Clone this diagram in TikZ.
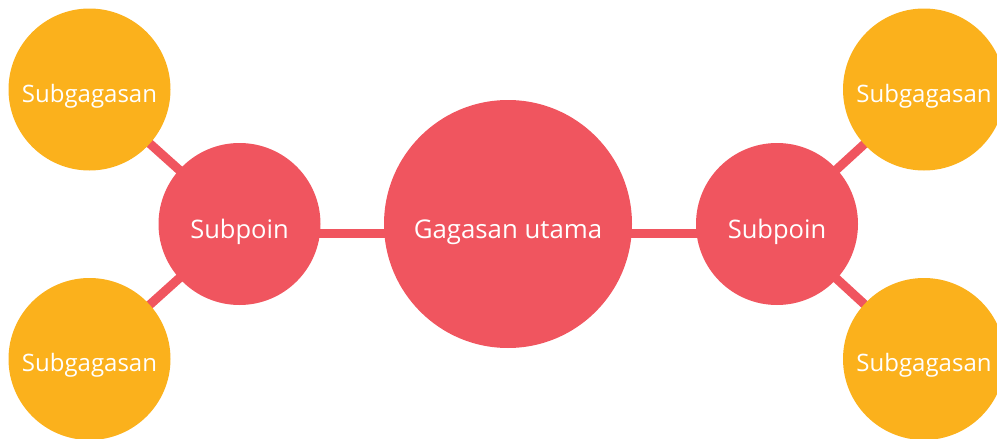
\documentclass[tikz,border=0pt]{standalone}
\usepackage{fontspec}
\setmainfont{Open Sans}
\usetikzlibrary{backgrounds}
\definecolor{redc}{RGB}{240,85,95}
\definecolor{orangec}{RGB}{251,177,28}
\newcommand{\lowtxt}[2]{\raisebox{-#1}[0pt][0pt]{#2}}
\tikzset{
  mainc/.style={circle, fill=redc, draw=none, minimum size=248pt, inner sep=0pt, text=white, font=\fontsize{25.8}{30}\selectfont},
  subc/.style={circle, fill=redc, draw=none, minimum size=162pt, inner sep=0pt, text=white, font=\fontsize{25.5}{30}\selectfont},
  leafc/.style={circle, fill=orangec, draw=none, minimum size=162pt, inner sep=0pt, text=white, font=\fontsize{24}{28}\selectfont},
  conn/.style={draw=redc, line width=9pt}
}
\begin{document}
\begin{tikzpicture}[x=1pt,y=-1pt]
\useasboundingbox (0,0) rectangle (997,439);
\node[mainc] (main) at (508,224) {\lowtxt{14pt}{Gagasan utama}};
\node[subc] (subL) at (239.5,224) {\lowtxt{14pt}{Subpoin}};
\node[subc] (subR) at (777,224) {\lowtxt{14pt}{Subpoin}};
\node[leafc] (lt) at (89.5,89.5) {\lowtxt{12.5pt}{Subgagasan}};
\node[leafc] (lb) at (89.5,359) {\lowtxt{12.5pt}{Subgagasan}};
\node[leafc] (rt) at (924,89.5) {\lowtxt{12.5pt}{Subgagasan}};
\node[leafc] (rb) at (924,359) {\lowtxt{12.5pt}{Subgagasan}};
\begin{scope}[on background layer]
\draw[conn] ([yshift=-9pt]subL.center) -- ([yshift=-9pt]main.center);
\draw[conn] ([yshift=-9pt]main.center) -- ([yshift=-9pt]subR.center);
\draw[conn] (lt.center) -- (subL.center);
\draw[conn] (lb.center) -- (subL.center);
\draw[conn] (rt.center) -- (subR.center);
\draw[conn] (rb.center) -- (subR.center);
\end{scope}
\end{tikzpicture}
\end{document}
